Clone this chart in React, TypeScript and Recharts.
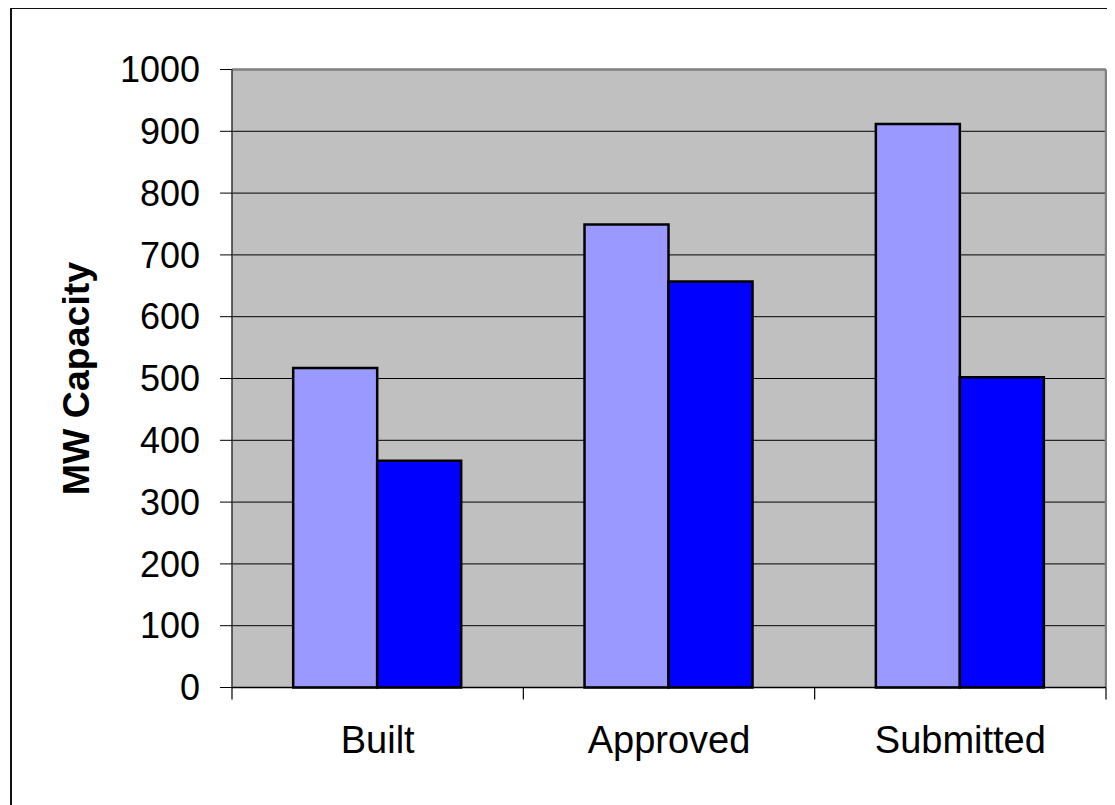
import { Bar, BarChart, CartesianGrid, XAxis, YAxis } from "recharts";

const CATEGORIES = ["Built", "Approved", "Submitted"];
const SERIES_LIGHT = [517, 749, 912];
const SERIES_DARK = [367, 657, 502];
const Y_TICKS = [0, 100, 200, 300, 400, 500, 600, 700, 800, 900, 1000];

const FONT = "'Liberation Sans', Arial, sans-serif";
const CHART_W = 1107;
const CHART_H = 797;
const MARGIN = { top: 61.5, right: 9, bottom: 37.5, left: 0 };
const Y_AXIS_W = 224;
const X_TICK_SIZE = 12;
const X_TICK_MARGIN = 27;

const chartData = CATEGORIES.map((name, i) => ({
  name,
  light: SERIES_LIGHT[i],
  dark: SERIES_DARK[i],
}));

// half of a category band, so tick marks sit on the boundaries (Excel style)
const HALF_BAND = (CHART_W - MARGIN.left - MARGIN.right - Y_AXIS_W) / CATEGORIES.length / 2;

function CategoryTick(props: any) {
  const { x, y, payload, index, visibleTicksCount } = props;
  const axisY = y - X_TICK_MARGIN - X_TICK_SIZE;
  const isLast = index === visibleTicksCount - 1;
  return (
    <g>
      <line x1={x - HALF_BAND} x2={x - HALF_BAND} y1={axisY} y2={axisY + X_TICK_SIZE} stroke="#000" strokeWidth={1.2} />
      {isLast && (
        <line x1={x + HALF_BAND} x2={x + HALF_BAND} y1={axisY} y2={axisY + X_TICK_SIZE} stroke="#000" strokeWidth={1.2} />
      )}
      <text x={x} y={y} dy="0.71em" textAnchor="middle" fill="#000" fontSize={38} fontFamily={FONT}>
        {payload.value}
      </text>
    </g>
  );
}

export default function App() {
  return (
    <div style={{ position: "relative", width: CHART_W, height: CHART_H }}>
      <div
        style={{
          position: "absolute",
          left: 2,
          top: -1,
          right: 0,
          bottom: 0,
          borderLeft: "2px solid #111",
          borderTop: "2px solid #111",
        }}
      />
      <BarChart
        width={CHART_W}
        height={CHART_H}
        data={chartData}
        margin={MARGIN}
        barCategoryGap="21%"
        barGap={0}
      >
        <CartesianGrid vertical={false} stroke="#000" fill="#C0C0C0" fillOpacity={1} />
        <CartesianGrid
          stroke="#808080"
          strokeWidth={2.5}
          horizontalCoordinatesGenerator={({ offset }: any) => [offset.top]}
          verticalCoordinatesGenerator={({ offset }: any) => [offset.left + offset.width]}
        />
        <XAxis
          dataKey="name"
          height={80}
          tickSize={X_TICK_SIZE}
          tickMargin={X_TICK_MARGIN}
          tickLine={false}
          axisLine={{ stroke: "#000", strokeWidth: 1.5 }}
          tick={<CategoryTick />}
          interval={0}
        />
        <YAxis
          width={Y_AXIS_W}
          domain={[0, 1000]}
          ticks={Y_TICKS}
          interval={0}
          tickSize={12}
          tickMargin={20}
          axisLine={{ stroke: "#333", strokeWidth: 1.5 }}
          tickLine={{ stroke: "#000" }}
          tick={{ fill: "#000", fontSize: 36, fontFamily: FONT }}
          label={{
            value: "MW Capacity",
            angle: -90,
            position: "insideLeft",
            offset: 68,
            style: { textAnchor: "middle", fontWeight: "bold", fontSize: 37.5, fill: "#000", fontFamily: FONT },
          }}
        />
        <Bar dataKey="light" fill="#9999FF" stroke="#000" strokeWidth={2.5} isAnimationActive={false} />
        <Bar dataKey="dark" fill="#0000FF" stroke="#000" strokeWidth={2.5} isAnimationActive={false} />
      </BarChart>
    </div>
  );
}
